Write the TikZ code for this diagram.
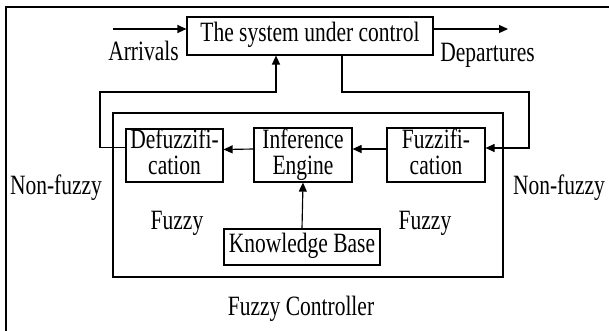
\documentclass[tikz,border=0pt]{standalone}
\usepackage{fontspec}
\setmainfont{Liberation Serif}
\usetikzlibrary{arrows.meta}
% tall, narrow lettering: stretch text vertically
\newcommand\tallt[1]{\scalebox{1}[1.3]{\begin{tabular}{@{}c@{}}#1\end{tabular}}}
\tikzset{
  blk/.style={draw, line width=1.15pt, inner sep=0pt, align=center},
  wire/.style={line width=1.15pt},
  arr/.style={wire, -{Triangle[length=9pt,width=8pt]}},
  lbl/.style={inner sep=0pt}
}
\begin{document}
\begin{tikzpicture}[x=1pt,y=-1pt,font=\fontsize{21.5}{19}\selectfont]
\useasboundingbox (0,0) rectangle (609,330);
% page frame
\draw[line width=2.2pt] (5.6,331) -- (5.6,7) -- (610,7);

% blocks
\node[blk, minimum width=246pt, minimum height=38pt] (sys) at (310,36) {\tallt{The system under control}};
\node[blk, minimum width=390pt, minimum height=164pt] (ctrl) at (308,195) {};
\node[blk, minimum width=97pt, minimum height=53pt] (defz) at (174.5,155.5) {\tallt{Defuzzifi-\\cation}};
\node[blk, minimum width=98pt, minimum height=54pt] (infe) at (303,155) {\tallt{Inference\\Engine}};
\node[blk, minimum width=98pt, minimum height=54pt] (fuzz) at (436,155) {\tallt{Fuzzifi-\\cation}};
\node[blk, minimum width=156pt, minimum height=36pt] (kb) at (302,247) {\tallt{Knowledge Base}};

% labels
\node[lbl] (arrl) at (143.5,55) {\tallt{Arrivals}};
\node[lbl] (depl) at (487.5,56) {\tallt{Departures}};
\node[lbl] (nfl) at (56,188) {\tallt{Non-fuzzy}};
\node[lbl] (nfr) at (559,188) {\tallt{Non-fuzzy}};
\node[lbl] (fzl) at (177,224) {\tallt{Fuzzy}};
\node[lbl] (fzr) at (425,224) {\tallt{Fuzzy}};
\node[lbl] (ctrll) at (301,309) {\tallt{Fuzzy Controller}};

% plant input/output
\coordinate (arrin) at (113,29);
\coordinate (depout) at (508,29);
\draw[arr] (arrin) -- (arrin -| sys.west);
\draw[arr] (depout -| sys.east) -- (depout);

% feedback loop
\coordinate (fbl) at (100,92);
\coordinate (fbr) at (529,92);
\draw[arr] ([yshift=8pt]defz.west) -| (fbl) -| ([xshift=-34pt]sys.south);
\draw[arr] ([xshift=32pt]sys.south) |- (fbr) |- ([yshift=7pt]fuzz.east);

% internal signal flow
\draw[arr] ([yshift=6pt]fuzz.west) -- ([yshift=6pt]infe.east);
\draw[arr] ([yshift=6pt]infe.west) -- ([yshift=6pt]defz.east -| defz.east);
\draw[arr] (kb.north) -- (infe.south);
\end{tikzpicture}
\end{document}
